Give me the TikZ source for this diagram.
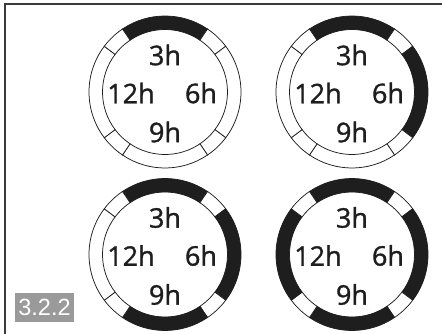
\documentclass[tikz,border=0pt]{standalone}
\usepackage{fontspec}
\setmainfont{Open Sans}
\newfontfamily\hourfont[FakeBold=1.2]{Open Sans}
\newfontfamily\boxfont{Liberation Sans}
\definecolor{inkblack}{HTML}{1E1E1E}
\definecolor{framegray}{HTML}{3A3A3A}
\definecolor{tabgray}{HTML}{9A9A9A}
\newcommand\ringseg[4]{% center, start angle, end angle, fill
  \filldraw[segline, fill=#4] ($(#1)+(#2:\Rout)$) arc[start angle=#2, end angle=#3, radius=\Rout]
    -- ($(#1)+(#3:\Rin)$) arc[start angle=#3, end angle=#2, radius=\Rin] -- cycle;}
\newcommand\dialrings[5]{% center, top, right, bottom, left fills
  \ringseg{#1}{56}{124}{#2}
  \ringseg{#1}{37}{56}{white}
  \ringseg{#1}{-37}{37}{#3}
  \ringseg{#1}{-56}{-37}{white}
  \ringseg{#1}{236}{304}{#4}
  \ringseg{#1}{217}{236}{white}
  \ringseg{#1}{143}{217}{#5}
  \ringseg{#1}{124}{143}{white}}
\usetikzlibrary{calc}
\begin{document}
\begin{tikzpicture}[x=1pt,y=1pt,
  segline/.style={draw=inkblack, line width=0.75pt},
  hour/.style={font=\hourfont\fontsize{27}{27}\selectfont, text=inkblack, inner sep=0pt},
  tab/.style={fill=tabgray, text=white, font=\boxfont\fontsize{23.5}{23.5}\selectfont, minimum width=59pt, minimum height=29pt, inner sep=0pt}]
\useasboundingbox (0,0) rectangle (442,333);
\fill[white] (0,0) rectangle (442,333);
\def\Rout{76}
\def\Rin{62.5}
\draw[framegray, line width=1.6pt] (5,-2) -- (5,329) -- (444,329);
\coordinate (c1) at (165,241);
\coordinate (c2) at (352,241);
\coordinate (c3) at (165,78.5);
\coordinate (c4) at (352,78.5);
\dialrings{c1}{inkblack}{white}{white}{white}
\dialrings{c2}{inkblack}{inkblack}{white}{white}
\dialrings{c3}{inkblack}{inkblack}{inkblack}{white}
\dialrings{c4}{inkblack}{inkblack}{inkblack}{inkblack}
\foreach \c in {1,2,3,4}{
  \node[hour] (t\c) at ($(c\c)+(0,37)$) {3h};
  \node[hour] (r\c) at ($(c\c)+(36,-1)$) {6h};
  \node[hour] (b\c) at ($(c\c)+(0,-40)$) {9h};
  \node[hour] (l\c) at ($(c\c)+(-34,-1)$) {12h};
}
\node[tab] (tag) at (44.5,26) {3.2.2};
\end{tikzpicture}
\end{document}
